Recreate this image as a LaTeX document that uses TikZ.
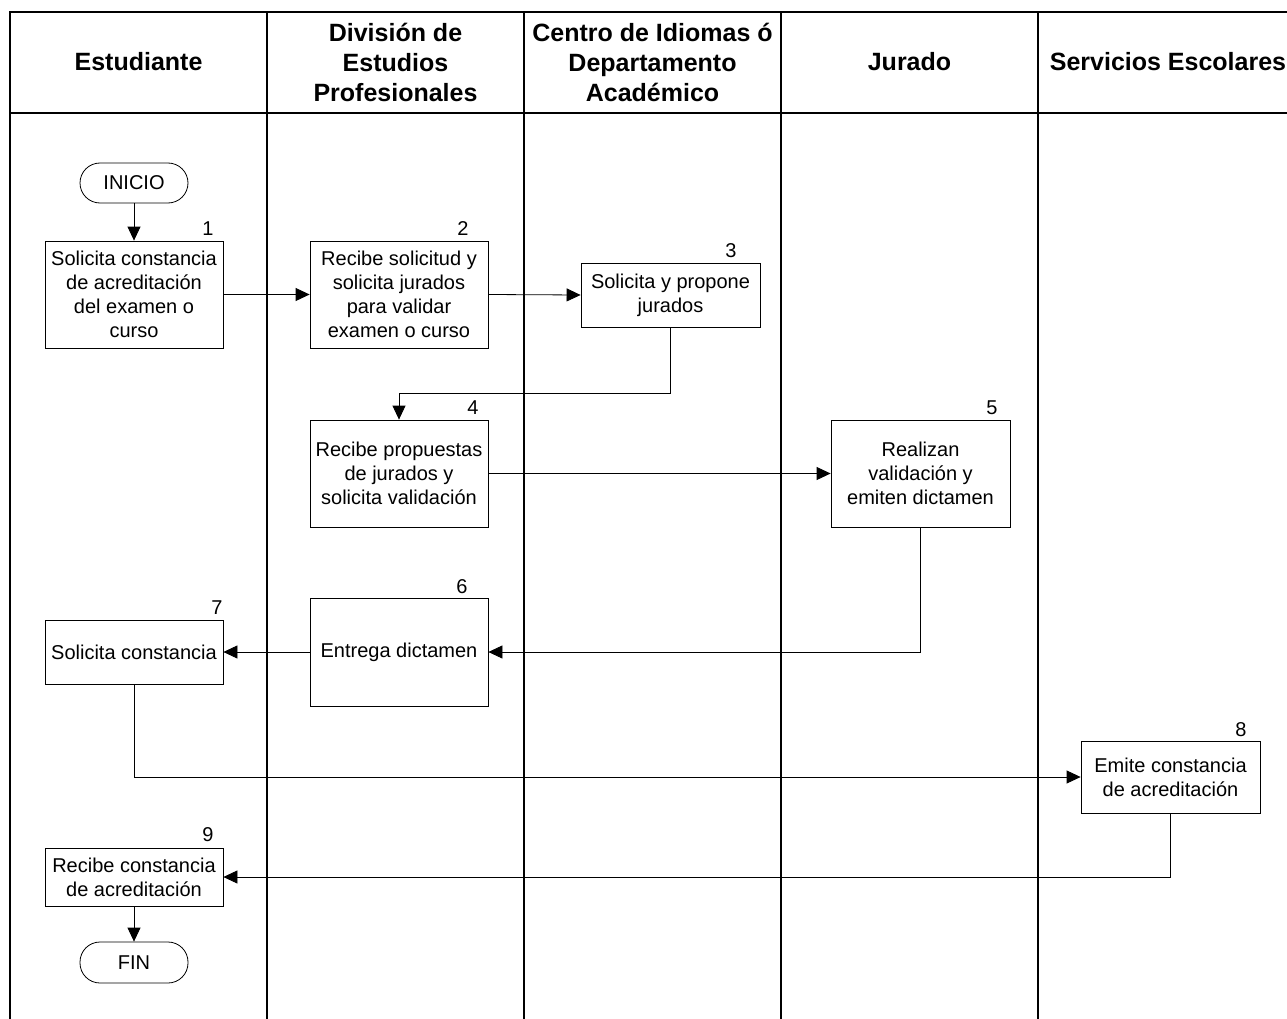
\documentclass[tikz,border=0pt]{standalone}
\usepackage{fontspec}
\setmainfont{Liberation Sans}
\usetikzlibrary{arrows.meta}
\tikzset{
  box/.style={draw, line width=0.8pt, inner sep=0pt, align=center, font=\fontsize{20}{24}\selectfont},
  term/.style={draw, line width=0.8pt, rounded corners=20pt, inner sep=0pt, minimum width=108pt, font=\fontsize{20}{24}\selectfont},
  num/.style={inner sep=0pt, font=\fontsize{20}{24}\selectfont},
  head/.style={inner sep=0pt, align=center, font=\bfseries\fontsize{25}{30}\selectfont},
  arr/.style={line width=0.8pt, -{Triangle[length=14pt,width=13pt]}},
  lane/.style={line width=1.3pt},
}
\begin{document}
\begin{tikzpicture}[x=1pt,y=-1pt]
\useasboundingbox (0,0) rectangle (1287,1019);
% frame and lanes
\draw[line width=1.6pt] (10,1019) -- (10,12) -- (1300,12);
\draw[lane] (10,113) -- (1300,113);
\foreach \xx in {267,524,781,1038} \draw[lane] (\xx,12) -- (\xx,1019);
% headers
\node[head] (h1) at (138.5,62) {Estudiante};
\node[head] (h2) at (395.5,62) {División de\\Estudios\\Profesionales};
\node[head] (h3) at (652.5,62) {Centro de Idiomas ó\\Departamento\\Académico};
\node[head] (h4) at (909.5,62) {Jurado};
\node[head] (h5) at (1168,62) {Servicios Escolares};
% terminals
\node[term, minimum height=40pt] (ini) at (134,183) {INICIO};
\node[term, minimum height=41pt] (fin) at (134,962.5) {FIN};
% boxes
\node[box, minimum width=178pt, minimum height=107pt] (b1) at (134,294.5) {Solicita constancia\\de acreditación\\del examen o\\curso};
\node[box, minimum width=178pt, minimum height=107pt] (b2) at (399,294.5) {Recibe solicitud y\\solicita jurados\\para validar\\examen o curso};
\node[box, minimum width=179pt, minimum height=64pt] (b3) at (670.5,295) {Solicita y propone\\jurados};
\node[box, minimum width=178pt, minimum height=107pt] (b4) at (399,473.5) {Recibe propuestas\\de jurados y\\solicita validación};
\node[box, minimum width=179pt, minimum height=107pt] (b5) at (920.5,473.5) {Realizan\\validación y\\emiten dictamen};
\node[box, minimum width=178pt, minimum height=108pt] (b6) at (399,652) {Entrega dictamen};
\node[box, minimum width=178pt, minimum height=64pt] (b7) at (134,652) {Solicita constancia};
\node[box, minimum width=179pt, minimum height=72pt] (b8) at (1170.5,777) {Emite constancia\\de acreditación};
\node[box, minimum width=178pt, minimum height=58pt] (b9) at (134,877) {Recibe constancia\\de acreditación};
% numbers
\node[num] (n1) at (208,229) {1};
\node[num] (n2) at (463,229) {2};
\node[num] (n3) at (731,251) {3};
\node[num] (n4) at (473,408) {4};
\node[num] (n5) at (992,408) {5};
\node[num] (n6) at (462,587) {6};
\node[num] (n7) at (217,608) {7};
\node[num] (n8) at (1241,730) {8};
\node[num] (n9) at (208,835) {9};
% connectors
\coordinate (c34) at (670.5,393);
\draw[arr] (ini) -- (b1);
\draw[arr] (b1.east) -- (b2.west);
\draw[arr] (b2.east) -- (b3.west);
\draw[arr] (b3.south) -- (c34) -| (b4.north);
\draw[arr] (b4.east) -- (b5.west);
\draw[arr] (b5.south) |- (b6.east);
\draw[arr] (b6.west) -- (b7.east);
\draw[arr] (b7.south) |- (b8.west);
\draw[arr] (b8.south) |- (b9.east);
\draw[arr] (b9) -- (fin);
\end{tikzpicture}
\end{document}
